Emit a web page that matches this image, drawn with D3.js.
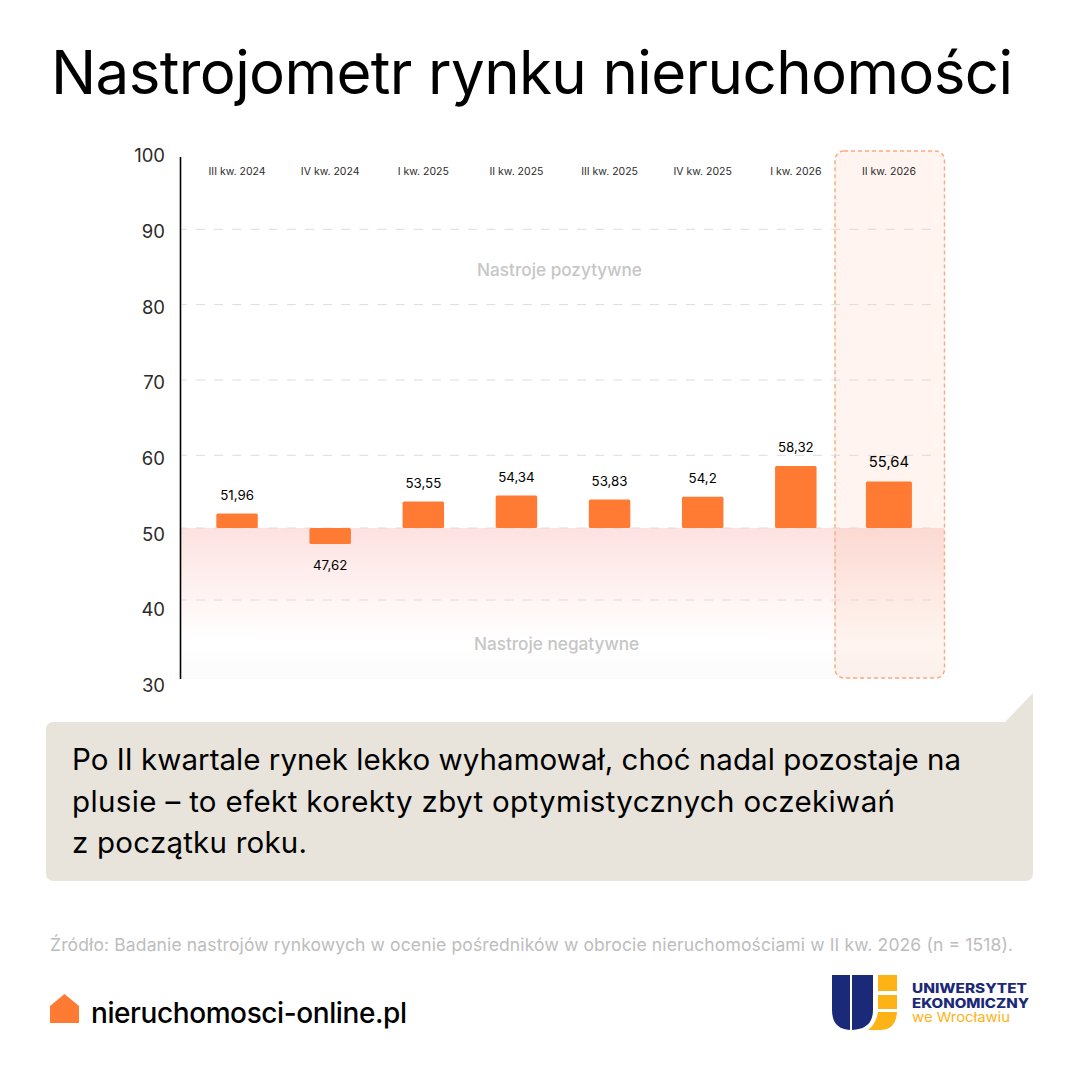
<!DOCTYPE html>
<html lang="pl">
<head>
  <meta charset="UTF-8" />
  <title>Nastrojometr rynku nieruchomości</title>
  <script src="https://d3js.org/d3.v7.min.js"></script>
  <style>
    html, body { margin: 0; background: #fff; }
    svg { display: block; font-family: Inter, sans-serif; }
  </style>
</head>
<body>
  <svg id="chart" width="1080" height="1080"></svg>

  <script>
    // ----- data -----
    const quarters = ['III kw. 2024', 'IV kw. 2024', 'I kw. 2025', 'II kw. 2025', 'III kw. 2025', 'IV kw. 2025', 'I kw. 2026', 'II kw. 2026'];
    const values = [51.96, 47.62, 53.55, 54.34, 53.83, 54.2, 58.32, 55.64];
    const yTicks = [100, 90, 80, 70, 60, 50, 40, 30];
    const gridTicks = [90, 80, 70, 60, 50, 40];
    const noteLines = [
      'Po II kwartale rynek lekko wyhamował, choć nadal pozostaje na',
      'plusie – to efekt korekty zbyt optymistycznych oczekiwań',
      'z początku roku.'
    ];

    const svg = d3.select('#chart');
    const baseline = 50;
    const lastQuarter = quarters[quarters.length - 1];

    // the source is hand laid out: bars, grid and tick labels don't quite share one scale
    const y = d3.scaleLinear().domain([40, 50, 100]).range([595, 528, 155]);
    const yGrid = d3.scaleLinear().domain([30, 40, 50, 60, 90]).range([679, 600, 528, 455.3, 229.3]);
    const yLabel = d3.scaleLinear().domain([30, 100]).range([685, 155]);
    const x = d3.scaleBand().domain(quarters).range([190.5, 935.5]);

    const defs = svg.append('defs');
    const grad = defs.append('linearGradient')
      .attr('id', 'negGrad').attr('x1', 0).attr('y1', 0).attr('x2', 0).attr('y2', 1);
    grad.append('stop').attr('offset', '0%').attr('stop-color', '#fce2e1');
    grad.append('stop').attr('offset', '50%').attr('stop-color', '#fff6f5');
    grad.append('stop').attr('offset', '75%').attr('stop-color', '#ffffff');
    grad.append('stop').attr('offset', '100%').attr('stop-color', '#fbfbfb');

    // title
    svg.append('text')
      .attr('x', 51).attr('y', 94)
      .attr('font-size', 60).attr('fill', '#000')
      .attr('textLength', 962)
      .text('Nastrojometr rynku nieruchomości');

    // negative zone + highlighted quarter
    svg.append('rect')
      .attr('x', 181).attr('y', yGrid(baseline))
      .attr('width', 763).attr('height', yGrid(30) - yGrid(baseline))
      .attr('fill', 'url(#negGrad)');

    svg.append('rect')
      .attr('x', 835).attr('y', 151)
      .attr('width', 109.5).attr('height', 527)
      .attr('rx', 9)
      .attr('fill', 'rgba(255,110,50,0.08)')
      .attr('stroke', '#ffa67c').attr('stroke-width', 1.4)
      .attr('stroke-dasharray', '4 3');

    // grid
    svg.append('g').selectAll('line')
      .data(gridTicks)
      .enter().append('line')
        .attr('x1', 182).attr('x2', 931)
        .attr('y1', d => yGrid(d)).attr('y2', d => yGrid(d))
        .attr('stroke', '#dcdcdc').attr('stroke-width', 1)
        .attr('stroke-dasharray', '9 9.15')
        .attr('stroke-dashoffset', 4.15);

    // y axis
    const yAxis = d3.axisLeft(yLabel).tickValues(yTicks).tickSize(0).tickPadding(0);
    const yG = svg.append('g').attr('transform', 'translate(165,0)').call(yAxis);
    yG.select('.domain').remove();
    yG.selectAll('text')
      .attr('font-family', 'Inter, sans-serif')
      .attr('font-size', 18.5).attr('fill', '#2b2b2b').attr('dy', '0.36em');

    svg.append('line')
      .attr('x1', 180.5).attr('x2', 180.5).attr('y1', 157).attr('y2', 679)
      .attr('stroke', '#000').attr('stroke-width', 1.6);

    // zone captions
    svg.append('text').attr('x', 559.5).attr('y', 276)
      .attr('text-anchor', 'middle').attr('font-size', 17.2).attr('font-weight', 500)
      .attr('fill', '#c6c6c6').text('Nastroje pozytywne');
    svg.append('text').attr('x', 556.5).attr('y', 649.5)
      .attr('text-anchor', 'middle').attr('font-size', 17.2).attr('font-weight', 500)
      .attr('fill', '#c6c6c6').text('Nastroje negatywne');

    // quarter labels
    svg.append('g').selectAll('text')
      .data(quarters)
      .enter().append('text')
        .attr('x', d => x(d) + x.bandwidth() / 2)
        .attr('y', 175)
        .attr('text-anchor', 'middle')
        .attr('font-size', 10.5).attr('fill', '#2b2b2b')
        .text(d => d);

    // bars - the highlighted quarter is drawn about 11% bigger in the source
    const barScale = q => q === lastQuarter ? 1.108 : 1;
    const barWidth = q => 41.5 * barScale(q);
    const barLen = (d, q) => Math.abs(y(d) - y(baseline)) * barScale(q);
    const barTop = (d, q) => d < baseline ? y(baseline) : y(baseline) - barLen(d, q);

    svg.append('g').selectAll('rect')
      .data(values)
      .enter().append('rect')
        .attr('x', (d, i) => x(quarters[i]) + x.bandwidth() / 2 - barWidth(quarters[i]) / 2)
        .attr('y', (d, i) => barTop(d, quarters[i]))
        .attr('width', (d, i) => barWidth(quarters[i]))
        .attr('height', (d, i) => barLen(d, quarters[i]))
        .attr('rx', 1.5)
        .attr('fill', '#ff7a33');

    // value labels
    svg.append('g').selectAll('text')
      .data(values)
      .enter().append('text')
        .attr('x', (d, i) => x(quarters[i]) + x.bandwidth() / 2)
        .attr('y', (d, i) => {
          if (d < baseline) return y(baseline) + barLen(d, quarters[i]) + 26.5;
          return barTop(d, quarters[i]) - (quarters[i] === lastQuarter ? 14.5 : 13.5);
        })
        .attr('text-anchor', 'middle')
        .attr('font-size', (d, i) => quarters[i] === lastQuarter ? 14.8 : 13.3)
        .attr('fill', '#000')
        .text(d => String(d).replace('.', ','));

    // note box with its tail
    svg.append('path')
      .attr('d', 'M54,722 H1005 L1033,693 V873 Q1033,881 1025,881 H54 Q46,881 46,873 V730 Q46,722 54,722 Z')
      .attr('fill', '#e8e4dc');

    const noteWidths = [889, 823, 235];
    svg.append('g').selectAll('text')
      .data(noteLines)
      .enter().append('text')
        .attr('x', 72)
        .attr('y', (d, i) => 770 + i * 41.5)
        .attr('font-size', 29.5).attr('fill', '#000')
        .attr('textLength', (d, i) => noteWidths[i])
        .text(d => d);

    // source
    svg.append('text')
      .attr('x', 50).attr('y', 951)
      .attr('font-size', 17.5).attr('fill', '#bdbdbd')
      .attr('textLength', 963)
      .text('Źródło: Badanie nastrojów rynkowych w ocenie pośredników w obrocie nieruchomościami w II kw. 2026 (n = 1518).');

    // footer: house + site name
    svg.append('path')
      .attr('d', 'M50,1006 L64.5,994 L79,1006 V1023 H50 Z')
      .attr('fill', '#ff7a33');
    svg.append('text')
      .attr('x', 91).attr('y', 1023)
      .attr('font-size', 28).attr('font-weight', 500).attr('fill', '#000')
      .attr('textLength', 316)
      .text('nieruchomosci-online.pl');

    // university logo
    const navy = '#1b2a78', gold = '#fdb316';
    const logo = svg.append('g');
    logo.append('path').attr('fill', navy)
      .attr('d', 'M832,975 H850 V1030 Q832,1029 832,1010 Z');
    logo.append('path').attr('fill', navy)
      .attr('d', 'M852,975 H873 V1010 Q873,1029 852,1030 Z');
    logo.append('rect').attr('fill', gold).attr('x', 878).attr('y', 975).attr('width', 19).attr('height', 16);
    logo.append('rect').attr('fill', gold).attr('x', 878).attr('y', 995).attr('width', 19).attr('height', 14);
    logo.append('path').attr('fill', gold)
      .attr('d', 'M878,1012 H897 Q896,1030 880,1030 H868 Q876,1024 878,1012 Z');
    logo.append('text').attr('x', 912).attr('y', 993)
      .attr('font-size', 13).attr('font-weight', 800).attr('fill', navy)
      .attr('textLength', 115).attr('lengthAdjust', 'spacingAndGlyphs').text('UNIWERSYTET');
    logo.append('text').attr('x', 912).attr('y', 1007.5)
      .attr('font-size', 13).attr('font-weight', 800).attr('fill', navy)
      .attr('textLength', 117).attr('lengthAdjust', 'spacingAndGlyphs').text('EKONOMICZNY');
    logo.append('text').attr('x', 912).attr('y', 1022)
      .attr('font-size', 13.5).attr('fill', gold)
      .attr('textLength', 98).attr('lengthAdjust', 'spacingAndGlyphs').text('we Wrocławiu');
  </script>
</body>
</html>
